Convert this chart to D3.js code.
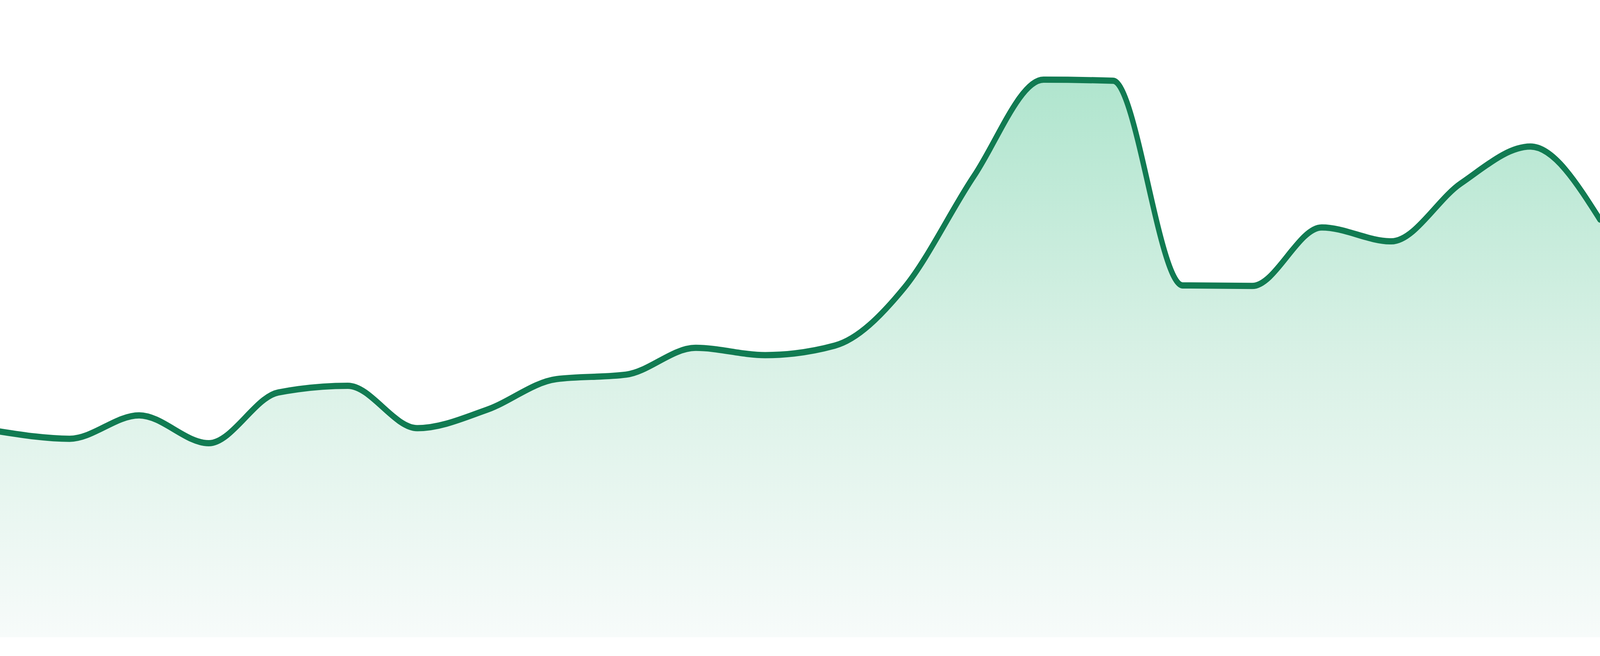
<!DOCTYPE html>
<html>
<head>
<meta charset="utf-8">
<script src="https://cdn.jsdelivr.net/npm/d3@7"></script>
<style>
  html, body { margin: 0; padding: 0; background: #ffffff; overflow: hidden; width: 100%; height: 100%; }
  #chart { width: 100vw; height: 100vh; }
  svg { display: block; width: 100vw; height: 100vh; }
</style>
</head>
<body>
<div id="chart"></div>
<script>
// ---- data ----
const categories = ["W01","W02","W03","W04","W05","W06","W07","W08","W09","W10","W11","W12",
                    "W13","W14","W15","W16","W17","W18","W19","W20","W21","W22","W23","W24"];
const values = [36.9, 35.6, 39.8, 34.8, 43.9, 45.1, 37.5, 40.8, 46.3, 47.1, 51.9, 50.6,
                52.3, 62.7, 82.7, 100.0, 99.8, 63.1, 63.0, 73.5, 71.0, 81.4, 88.0, 74.9];
const yDomain = [0, 100];

// ---- layout (drawn in a 4800x1680 coordinate space, fitted to the window) ----
const W = 4800, H = 1680;
const plotBottom = 1632, plotTop = 204;

const svg = d3.select("#chart").append("svg")
  .attr("viewBox", `0 0 ${W} ${H}`)
  .attr("preserveAspectRatio", "none");

const x = d3.scalePoint().domain(categories).range([0, W]);
const y = d3.scaleLinear().domain(yDomain).range([plotBottom, plotTop]);

const data = categories.map((c, i) => ({ c, v: values[i] }));

const defs = svg.append("defs");
const grad = defs.append("linearGradient")
  .attr("id", "fillGrad")
  .attr("gradientUnits", "userSpaceOnUse")
  .attr("x1", 0).attr("x2", 0)
  .attr("y1", y(yDomain[1])).attr("y2", plotBottom);
grad.append("stop").attr("offset", 0).attr("stop-color", "#b0e5ce");
grad.append("stop").attr("offset", 0.5).attr("stop-color", "#d9f1e6");
grad.append("stop").attr("offset", 1).attr("stop-color", "#f7fbfa");

const area = d3.area()
  .x(d => x(d.c))
  .y0(plotBottom)
  .y1(d => y(d.v))
  .curve(d3.curveMonotoneX);

const line = d3.line()
  .x(d => x(d.c))
  .y(d => y(d.v))
  .curve(d3.curveMonotoneX);

svg.append("path")
  .datum(data)
  .attr("d", area)
  .attr("fill", "url(#fillGrad)");

svg.append("path")
  .datum(data)
  .attr("d", line)
  .attr("fill", "none")
  .attr("stroke", "#117b52")
  .attr("stroke-width", 16)
  .attr("stroke-linejoin", "round")
  .attr("stroke-linecap", "round");
</script>
</body>
</html>
